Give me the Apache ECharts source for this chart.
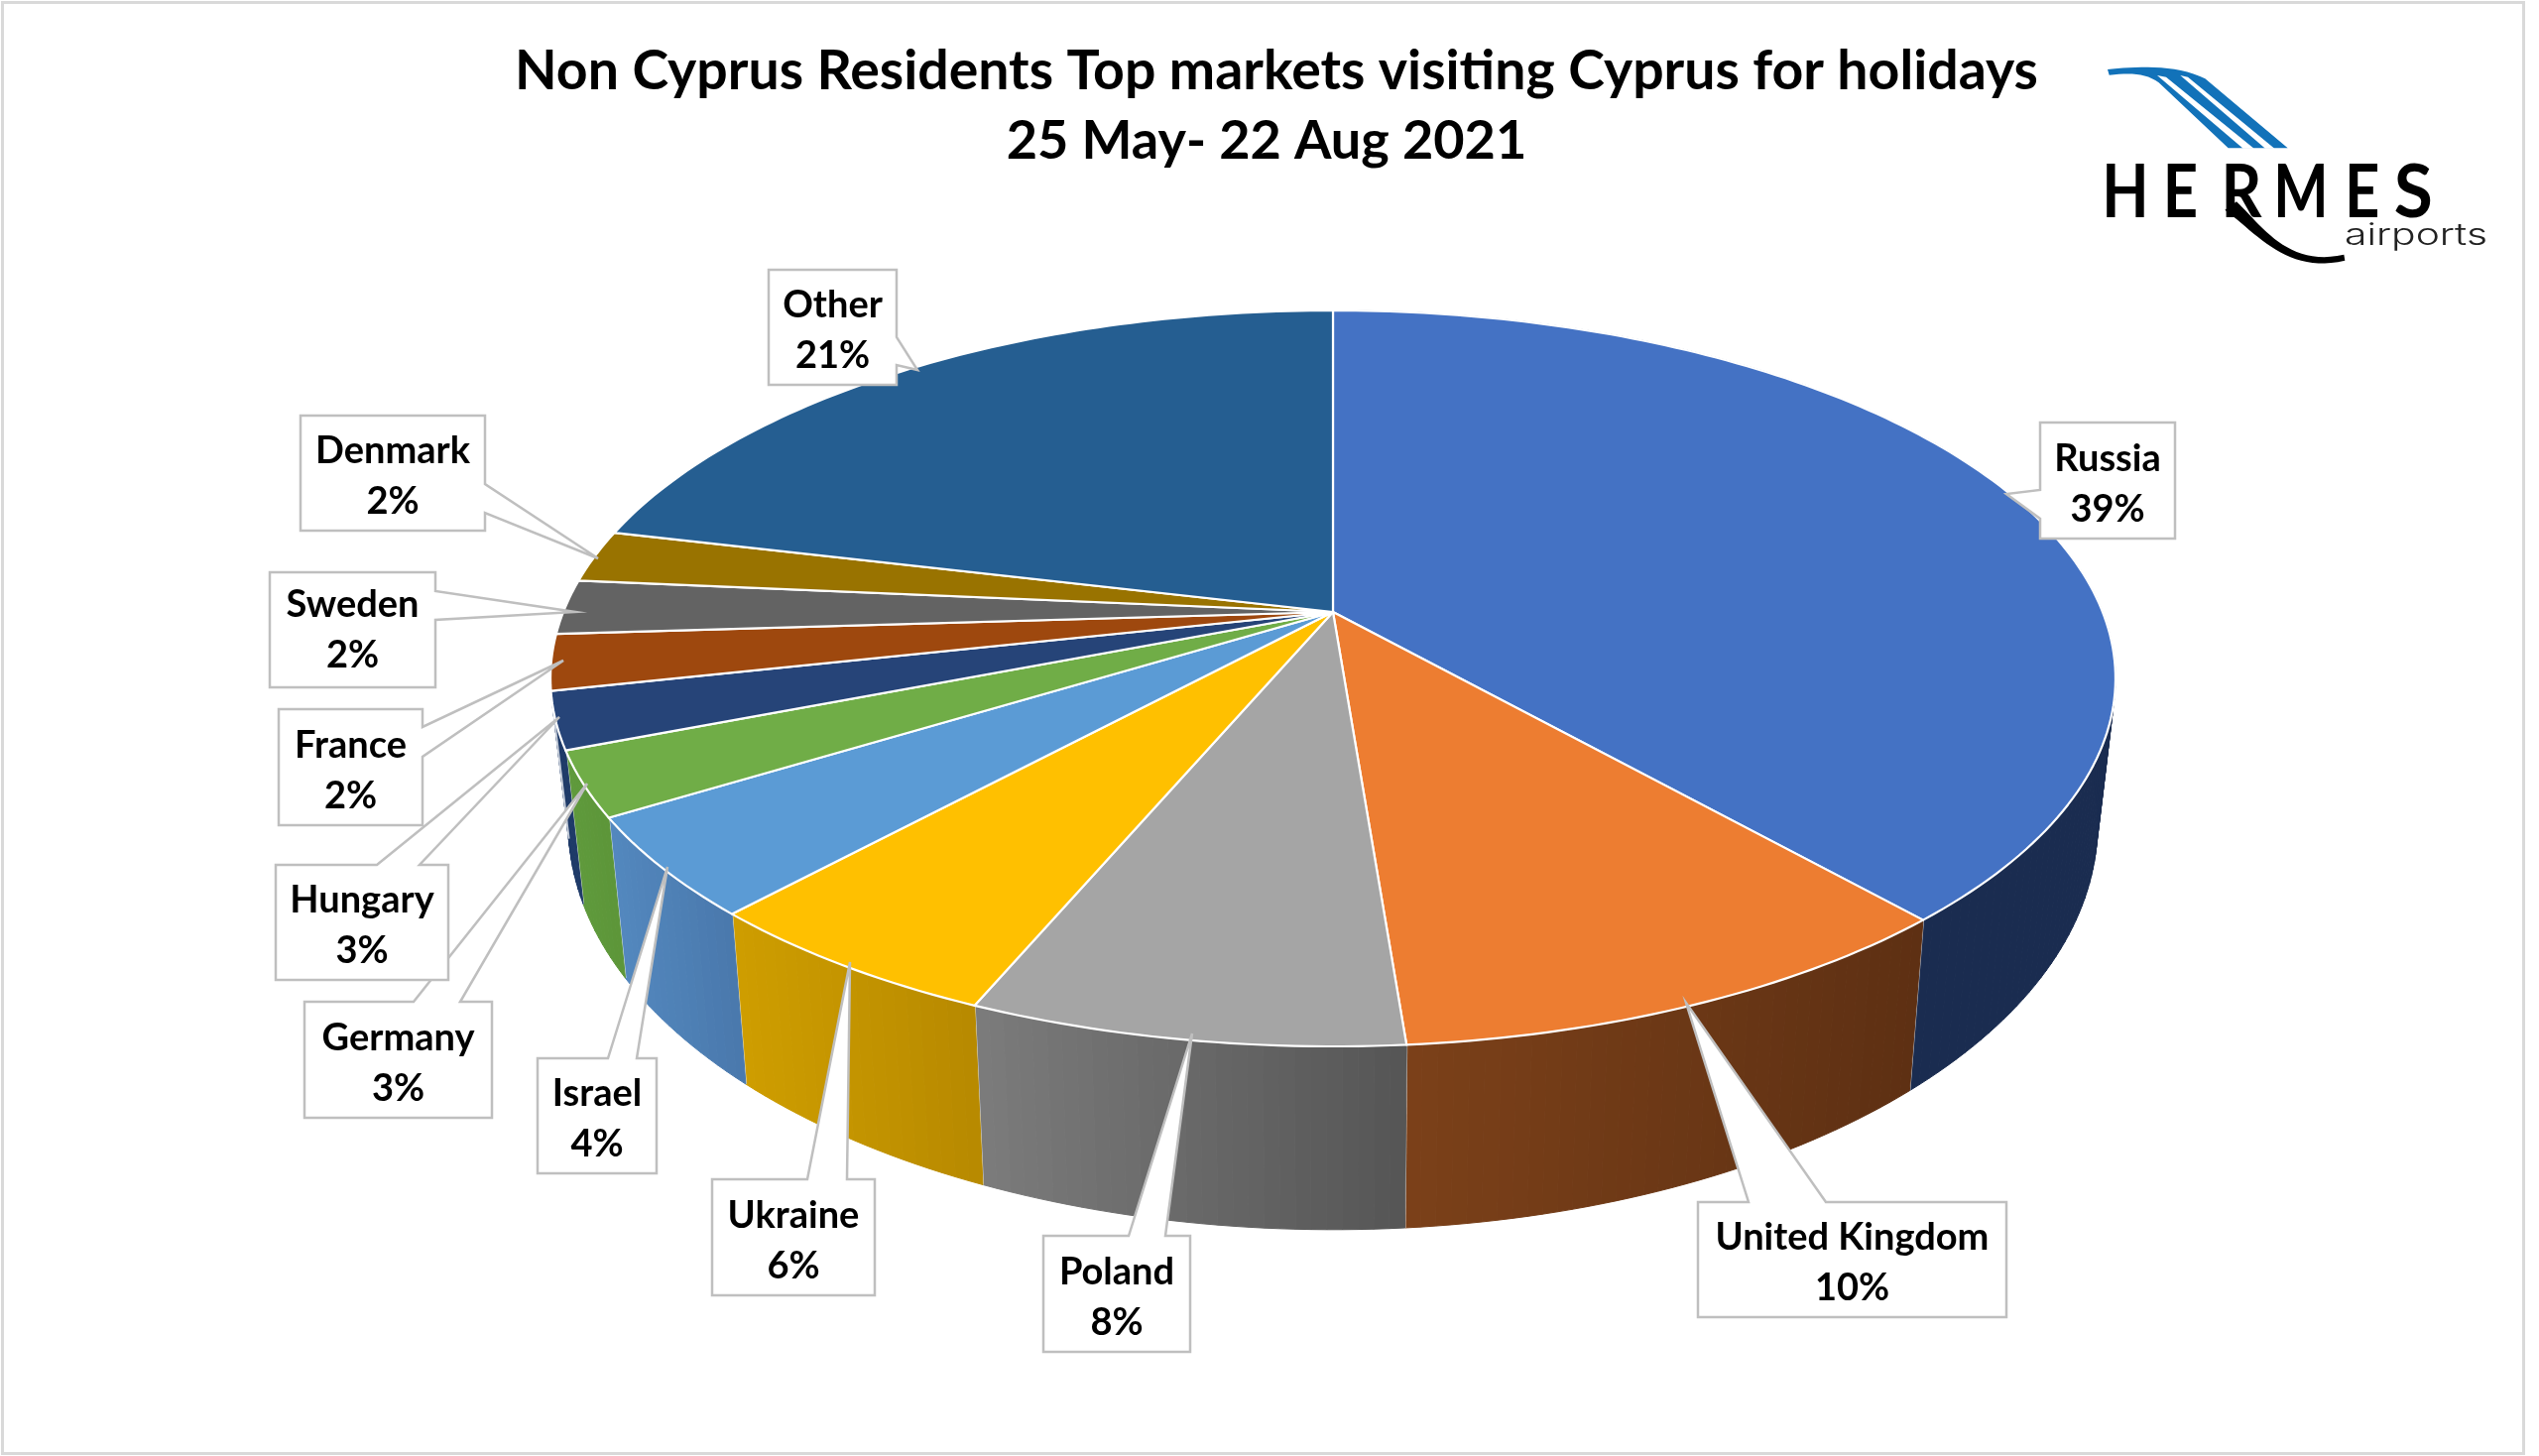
<!DOCTYPE html>
<html>
<head>
<meta charset="utf-8">
<style>html,body{margin:0;padding:0;background:#fff}#c{width:2560px;height:1468px}</style>
<script src="https://cdn.jsdelivr.net/npm/echarts@6/dist/echarts.min.js"></script>
</head>
<body>
<div id="c"></div>
<script>
// ---- data (labels show the rounded share) ----
const markets = ['Russia','United Kingdom','Poland','Ukraine','Israel','Germany','Hungary','France','Sweden','Denmark','Other'];
const shares  = [38.5, 10.3, 7.6, 5.5, 4.4, 2.85, 2.5, 2.45, 2.4, 2.3, 21.3];
const titleLines = ['Non Cyprus Residents Top markets visiting Cyprus for holidays', '25 May- 22 Aug 2021'];

// ---- styles ----
const topColors = ['#4472c4','#ed7d31','#a5a5a5','#ffc000','#5b9bd5','#70ad47','#264478','#9e480e','#636363','#997300','#255e91'];
const sideColors = [[[27,46,85],[26,44,80]],[[124,65,25],[94,48,19]],[[124,124,124],[86,86,86]],[[207,158,0],[184,138,0]],[[83,136,191],[74,121,173]],[[95,154,60],[93,150,57]],[[30,58,104],[30,58,104]]];

// ---- projection of the tilted pie onto the page ----
const PIE = {cx:1344, cy:617, b:776, a:358.9, p:0.1806, sx:0.977, sy:1.1, baseY:758, backFrom:0.715};
function rim(t){ // t: 0..1 clockwise from 12 o'clock
  const th = t*2*Math.PI, u = Math.sin(th), v = -Math.cos(th), d = 1-PIE.p*v;
  return [PIE.cx + PIE.b*u/d, PIE.cy + PIE.a*v/d];
}
function rimLow(t){
  const q = rim(t);
  return [PIE.cx + PIE.sx*(q[0]-PIE.cx), PIE.baseY + PIE.sy*(q[1]-PIE.cy)];
}
function steps(t0,t1){
  const n = Math.max(2,Math.ceil((t1-t0)*360)), out=[];
  for(let i=0;i<=n;i++) out.push(t0+(t1-t0)*i/n);
  return out;
}
const total = shares.reduce((s,v)=>s+v,0);
let run = 0;
const sliceData = shares.map((v,i)=>{const r=[i,run/total,(run+v)/total,v]; run+=v; return r;});

// ---- callout box layout: box corners, pointer tip, pointer base ----
const boxes = [
 {r:[2057,426,2193,543],side:'left', tip:[2023,498],base:[494,523]},
 {r:[1712,1212,2023,1328],side:'top',tip:[1700,1011],base:[1763,1841]},
 {r:[1052,1246,1200,1363],side:'top',tip:[1202,1042],base:[1138,1175]},
 {r:[718,1189,882,1306],side:'top',tip:[857,970],base:[814,854]},
 {r:[542,1067,662,1183],side:'top',tip:[673,874],base:[613,642]},
 {r:[307,1010,496,1127],side:'top',tip:[592,790],base:[417,464]},
 {r:[278,872,452,988],side:'top',tip:[564,723],base:[380,423]},
 {r:[281,715,426,832],side:'right',tip:[568,666],base:[733,763]},
 {r:[272,577,439,693],side:'right',tip:[580,617],base:[596,625],dy:-3},
 {r:[303,419,489,535],side:'right',tip:[603,563],base:[488,517]},
 {r:[775,272,904,388],side:'right',tip:[925,373],base:[340,368]}
];
function calloutPoints(b){
  const [x0,y0,x1,y1]=b.r;
  if(b.side==='top') return [[x0,y0],[b.base[0],y0],b.tip,[b.base[1],y0],[x1,y0],[x1,y1],[x0,y1]];
  if(b.side==='right') return [[x0,y0],[x1,y0],[x1,b.base[0]],b.tip,[x1,b.base[1]],[x1,y1],[x0,y1]];
  return [[x0,y0],[x1,y0],[x1,y1],[x0,y1],[x0,b.base[1]],b.tip,[x0,b.base[0]]];
}

// ---- logo helpers ----
const LX = z=>2080+z/3, LY = z=>40+z/3;
const lp = pts=>pts.map(p=>[LX(p[0]),LY(p[1])]);
function bez(p0,c0,c1,p1,n){
  const o=[];
  for(let i=0;i<=n;i++){const t=i/n,m=1-t;
    o.push([m*m*m*p0[0]+3*m*m*t*c0[0]+3*m*t*t*c1[0]+t*t*t*p1[0], m*m*m*p0[1]+3*m*m*t*c0[1]+3*m*t*t*c1[1]+t*t*t*p1[1]]);}
  return o;
}
const swooshBlue = lp([].concat(
  [[135,90]], bez([135,90],[210,82],[340,72],[430,118],16),
  [[680,328],[500,328]],
  bez([290,130],[250,100],[200,100],[140,107],12)
));
const stripeA = lp([[285,108],[312,113],[578,329],[545,329]]);
const stripeB = lp([[355,108],[378,113],[640,329],[612,329]]);
const tail = lp([].concat(
  bez([525,490],[600,560],[680,690],[850,650],24),
  bez([853,668],[680,710],[590,590],[490,515],24)
));
const logoLetters = [['H',189,0.82],['E',355,0.82],['R',540,0.85],['M',720,0.78],['E',905,0.82],['S',1060,0.95]];

const mix = (a,b,k)=>'rgb('+a.map((c,i)=>Math.round(c+(b[i]-c)*k)).join(',')+')';

const chart = echarts.init(document.getElementById('c'),null,{renderer:'canvas'});
chart.setOption({
  animation:false,
  backgroundColor:'#ffffff',
  title:[
    {text:titleLines[0],left:1282,top:40,textAlign:'center',textStyle:{fontFamily:'Lato',fontWeight:'bold',fontSize:55.4,color:'#000'}},
    {text:titleLines[1],left:1272,top:111,textAlign:'center',textStyle:{fontFamily:'Lato',fontWeight:'bold',fontSize:54,color:'#000'}}
  ],
  graphic:[
    {type:'rect',silent:true,z:0,shape:{x:2.5,y:2.5,width:2542,height:1463},style:{fill:'none',stroke:'#d9d9d9',lineWidth:3}},
    {type:'polygon',z:5,shape:{points:swooshBlue},style:{fill:'#1272b9'}},
    {type:'polygon',z:6,shape:{points:stripeA},style:{fill:'#fff'}},
    {type:'polygon',z:6,shape:{points:stripeB},style:{fill:'#fff'}},
    ...logoLetters.map(l=>({type:'text',z:5,x:LX(l[1]),y:LY(465),scaleX:l[2],style:{text:l[0],font:'bold 75px Lato',fill:'#000',align:'center',verticalAlign:'middle'}})),
    {type:'polygon',z:6,shape:{points:tail},style:{fill:'#000'}},
    {type:'text',z:5,x:2436,y:238,scaleX:1.36,style:{text:'airports',font:'300 30px Inter',fill:'#222',align:'center',verticalAlign:'middle'}}
  ],
  series:[
    {type:'custom',coordinateSystem:'none',z:2,silent:true,data:sliceData,
     renderItem(params,api){
       const i=api.value(0),t0=api.value(1),t1=api.value(2);
       if(t0>=PIE.backFrom) return {type:'group',children:[]};
       const ts=steps(t0,t1),kids=[];
       const xA=rim(t0)[0],xB=rim(t1)[0],xL=Math.min(xA,xB),xR=Math.max(xA,xB);
       for(let k=0;k<ts.length-1;k++){
         const a=ts[k],b=ts[k+1];
         const f=mix(sideColors[i][0],sideColors[i][1],Math.min(1,Math.max(0,(rim(a)[0]-xL)/(xR-xL))));
         kids.push({type:'polygon',shape:{points:[rim(a),rim(b),rimLow(b),rimLow(a)]},style:{fill:f,stroke:f,lineWidth:1}});
       }
       kids.push({type:'line',shape:{x1:rim(t1)[0],y1:rim(t1)[1],x2:rimLow(t1)[0],y2:rimLow(t1)[1]},style:{stroke:'rgba(255,255,255,0.75)',lineWidth:2}});
       return {type:'group',children:kids};
     }},
    {type:'custom',coordinateSystem:'none',z:3,silent:true,data:sliceData,
     renderItem(params,api){
       const i=api.value(0),t0=api.value(1),t1=api.value(2);
       const pts=[[PIE.cx,PIE.cy]].concat(steps(t0,t1).map(rim));
       return {type:'polygon',shape:{points:pts},style:{fill:topColors[i],stroke:'#ffffff',lineWidth:2.2,lineJoin:'round'}};
     }},
    {type:'custom',coordinateSystem:'none',z:4,silent:true,data:sliceData,
     renderItem(params,api){
       const i=api.value(0),v=api.value(3),b=boxes[i],dy=b.dy||0;
       const mx=(b.r[0]+b.r[2])/2,my=(b.r[1]+b.r[3])/2;
       const font='bold 38px Lato';
       return {type:'group',children:[
         {type:'polygon',shape:{points:calloutPoints(b)},style:{fill:'#ffffff',stroke:'#bfbfbf',lineWidth:2.5,lineJoin:'miter'}},
         {type:'text',style:{x:mx,y:my-22+dy,text:markets[i],font,fill:'#000',align:'center',verticalAlign:'middle'}},
         {type:'text',style:{x:mx,y:my+29+dy,text:Math.round(v)+'%',font,fill:'#000',align:'center',verticalAlign:'middle'}}
       ]};
     }}
  ]
});
</script>
</body>
</html>
